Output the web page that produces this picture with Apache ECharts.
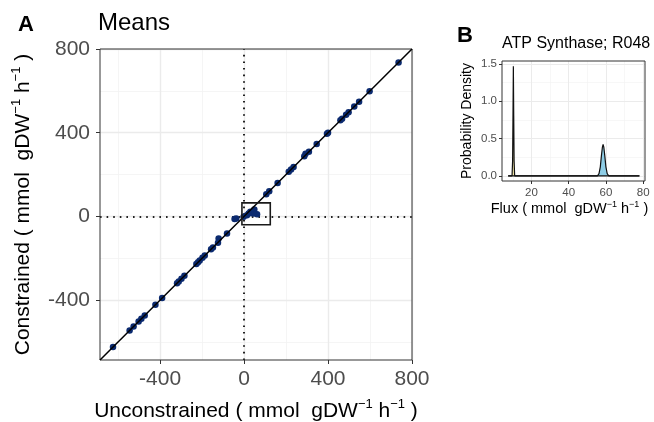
<!DOCTYPE html>
<html><head><meta charset="utf-8">
<script src="https://cdn.jsdelivr.net/npm/echarts@6/dist/echarts.min.js"></script>
<style>html,body{margin:0;padding:0;background:#fff}#c{width:654px;height:422px}</style>
</head><body><div id="c"></div>
<script>
// Panel A: means, unconstrained vs constrained
const unconstrained = [736, 598, 548, 525, 498, 486, 467, 459, 400, 395, 346, 309, 293, 287, 236, 224, 213, 160, 120, 106,
  62, 49, 43, 30, 22, 14, -2, -37, -45, -81, -121, -124, -148, -157, -187, -198, -211, -219, -227,
  -284, -298, -311, -319, -390, -422, -473, -489, -502, -526, -545, -624];
const constrained = [736, 598, 548, 525, 498, 486, 467, 459, 400, 395, 346, 309, 300, 287, 236, 224, 213, 160, 120, 106,
  10, 33, 14, 22, 14, 6, -2, -10, -12, -81, -105, -126, -148, -157, -187, -198, -211, -219, -227,
  -284, -298, -311, -319, -390, -422, -473, -489, -502, -526, -545, -624];
const aMajor = [-400, 0, 400, 800];
const aMinor = [-600, -200, 200, 600];
const aRange = [-686, 800];
const zoomBox = [[-10, -40], [125, 65]];

// Panel B: ATP Synthase density
const spikeX = [7.5, 9.6, 9.9, 10.1, 10.3, 10.5, 10.7, 11.0, 78];
const spikeY = [0, 0, 0.2, 0.8, 1.47, 0.8, 0.2, 0, 0];
const blueX = [7.5, 55.5, 56.3, 57.0, 57.6, 58.1, 58.5, 58.9, 59.4, 60.0, 60.7, 61.5, 78];
const blueY = [0, 0, 0.03, 0.12, 0.27, 0.38, 0.42, 0.38, 0.27, 0.12, 0.03, 0, 0];
const bXMajor = [20, 40, 60, 80];
const bXMinor = [10, 30, 50, 70];
const bYMajor = [0, 0.5, 1.0, 1.5];
const bYMinor = [0.25, 0.75, 1.25];
const bXRange = [4.2, 81];
const bYRange = [-0.07, 1.54];

const FF = 'Liberation Sans';
const GRID_MAJOR = '#EBEBEB', GRID_MINOR = '#F2F2F2';

function gridLines(xs, ys, color, width) {
  return xs.map(v => ({xAxis: v, lineStyle: {color, width, type: 'solid'}}))
    .concat(ys.map(v => ({yAxis: v, lineStyle: {color, width, type: 'solid'}})));
}
function richName(fs, sfs, pad) {
  return {
    fontFamily: FF, color: '#000', padding: pad || 0,
    rich: {
      n: {fontSize: fs, fontFamily: FF, color: '#000', lineHeight: Math.round(fs * 1.25)},
      s: {fontSize: sfs, fontFamily: FF, color: '#000', verticalAlign: 'top', lineHeight: sfs}
    }
  };
}
const unitName = pre => `{n|${pre} ( mmol  gDW}{s|−1}{n| h}{s|−1}{n| )}`;

const chart = echarts.init(document.getElementById('c'), null, {renderer: 'canvas'});
chart.setOption({
  animation: false,
  backgroundColor: '#fff',
  grid: [
    {left: 100, top: 49, width: 312, height: 311, outerBoundsMode: 'none', containLabel: false,
      show: true, borderColor: '#333', borderWidth: 1, backgroundColor: 'transparent', z: 3},
    {left: 502, top: 61, width: 143, height: 120, outerBoundsMode: 'none', containLabel: false,
      show: true, borderColor: '#333', borderWidth: 1, backgroundColor: 'transparent', z: 3}
  ],
  xAxis: [
    {gridIndex: 0, type: 'value', min: aRange[0], max: aRange[1],
      axisLine: {show: false, onZero: false}, splitLine: {show: false},
      axisTick: {show: true, customValues: aMajor, length: 4, lineStyle: {color: '#333'}},
      axisLabel: {customValues: aMajor, fontSize: 21, fontFamily: FF, color: '#4D4D4D', margin: 9},
      name: unitName('Unconstrained'), nameLocation: 'middle', nameGap: 38,
      nameTextStyle: richName(21, 13)},
    {gridIndex: 1, type: 'value', min: bXRange[0], max: bXRange[1],
      axisLine: {show: false, onZero: false}, splitLine: {show: false},
      axisTick: {show: true, customValues: bXMajor, length: 3, lineStyle: {color: '#333'}},
      axisLabel: {customValues: bXMajor, fontSize: 11.5, fontFamily: FF, color: '#4D4D4D', margin: 6},
      name: unitName('Flux'), nameLocation: 'middle', nameGap: 18,
      nameTextStyle: richName(14.5, 9, [0, 8, 0, 0])}
  ],
  yAxis: [
    {gridIndex: 0, type: 'value', min: aRange[0], max: aRange[1],
      axisLine: {show: false, onZero: false}, splitLine: {show: false},
      axisTick: {show: true, customValues: aMajor, length: 4, lineStyle: {color: '#333'}},
      axisLabel: {customValues: aMajor, fontSize: 21, fontFamily: FF, color: '#4D4D4D', margin: 10},
      name: unitName('Constrained'), nameLocation: 'middle', nameGap: 64,
      nameTextStyle: richName(21, 13)},
    {gridIndex: 1, type: 'value', min: bYRange[0], max: bYRange[1],
      axisLine: {show: false, onZero: false}, splitLine: {show: false},
      axisTick: {show: true, customValues: bYMajor, length: 3, lineStyle: {color: '#333'}},
      axisLabel: {customValues: bYMajor, fontSize: 11.5, fontFamily: FF, color: '#4D4D4D', margin: 5,
        formatter: v => v.toFixed(1)},
      name: 'Probability Density', nameLocation: 'middle', nameGap: 28,
      nameTextStyle: {fontSize: 14, fontFamily: FF, color: '#000'}}
  ],
  graphic: [
    {type: 'text', left: 18, top: 14, style: {text: 'A', font: 'bold 22px "Liberation Sans"', fill: '#000'}},
    {type: 'text', left: 98, top: 11, style: {text: 'Means', font: '24px "Liberation Sans"', fill: '#000'}},
    {type: 'text', left: 457, top: 25, style: {text: 'B', font: 'bold 22px "Liberation Sans"', fill: '#000'}},
    {type: 'text', left: 502, top: 36, style: {text: 'ATP Synthase; R048', font: '16px "Liberation Sans"', fill: '#000'}}
  ],
  series: [
    // Panel A gridlines
    {type: 'line', xAxisIndex: 0, yAxisIndex: 0, data: [[aRange[0], aRange[0]]], symbol: 'none', silent: true, z: 0,
      lineStyle: {opacity: 0},
      markLine: {silent: true, z: 0, symbol: 'none', label: {show: false}, animation: false,
        data: gridLines(aMinor, aMinor, GRID_MINOR, 0.8).concat(gridLines(aMajor, aMajor, GRID_MAJOR, 1.4))}},
    // Panel A dotted zero lines
    {type: 'line', xAxisIndex: 0, yAxisIndex: 0, data: [[aRange[0], aRange[0]]], symbol: 'none', silent: true, z: 1,
      lineStyle: {opacity: 0},
      markLine: {silent: true, z: 1, symbol: 'none', label: {show: false}, animation: false,
        lineStyle: {color: '#222', width: 2, type: [1.6, 5]},
        data: [{xAxis: 0}, {yAxis: 0}]}},
    // Panel A points
    {type: 'scatter', xAxisIndex: 0, yAxisIndex: 0, symbolSize: 6.5, z: 2,
      itemStyle: {color: '#0B2A6F', opacity: 1},
      data: unconstrained.map((u, i) => [u, constrained[i]])},
    // Panel A identity line + zoom box
    {type: 'line', xAxisIndex: 0, yAxisIndex: 0, symbol: 'none', z: 4, silent: true,
      lineStyle: {color: '#000', width: 1.5},
      data: [[aRange[0], aRange[0]], [aRange[1], aRange[1]]],
      markArea: {silent: true, z: 5, itemStyle: {color: 'rgba(0,0,0,0)', borderColor: '#1a1a1a', borderWidth: 1.6},
        data: [[{coord: zoomBox[0]}, {coord: zoomBox[1]}]]}},
    // Panel B gridlines
    {type: 'line', xAxisIndex: 1, yAxisIndex: 1, data: [[bXRange[0], 0]], symbol: 'none', silent: true, z: 0,
      lineStyle: {opacity: 0},
      markLine: {silent: true, z: 0, symbol: 'none', label: {show: false}, animation: false,
        data: gridLines(bXMinor, bYMinor, GRID_MINOR, 0.6).concat(gridLines(bXMajor, bYMajor, GRID_MAJOR, 1))}},
    // Panel B densities
    {type: 'line', xAxisIndex: 1, yAxisIndex: 1, symbol: 'none', z: 2, silent: true,
      lineStyle: {color: '#111', width: 1.2},
      areaStyle: {color: '#F3E7A6', opacity: 1},
      data: spikeX.map((x, i) => [x, spikeY[i]])},
    {type: 'line', xAxisIndex: 1, yAxisIndex: 1, symbol: 'none', z: 2, silent: true,
      lineStyle: {color: '#111', width: 1.2},
      areaStyle: {color: '#8ECDE6', opacity: 1},
      data: blueX.map((x, i) => [x, blueY[i]])}
  ]
});
</script></body></html>
